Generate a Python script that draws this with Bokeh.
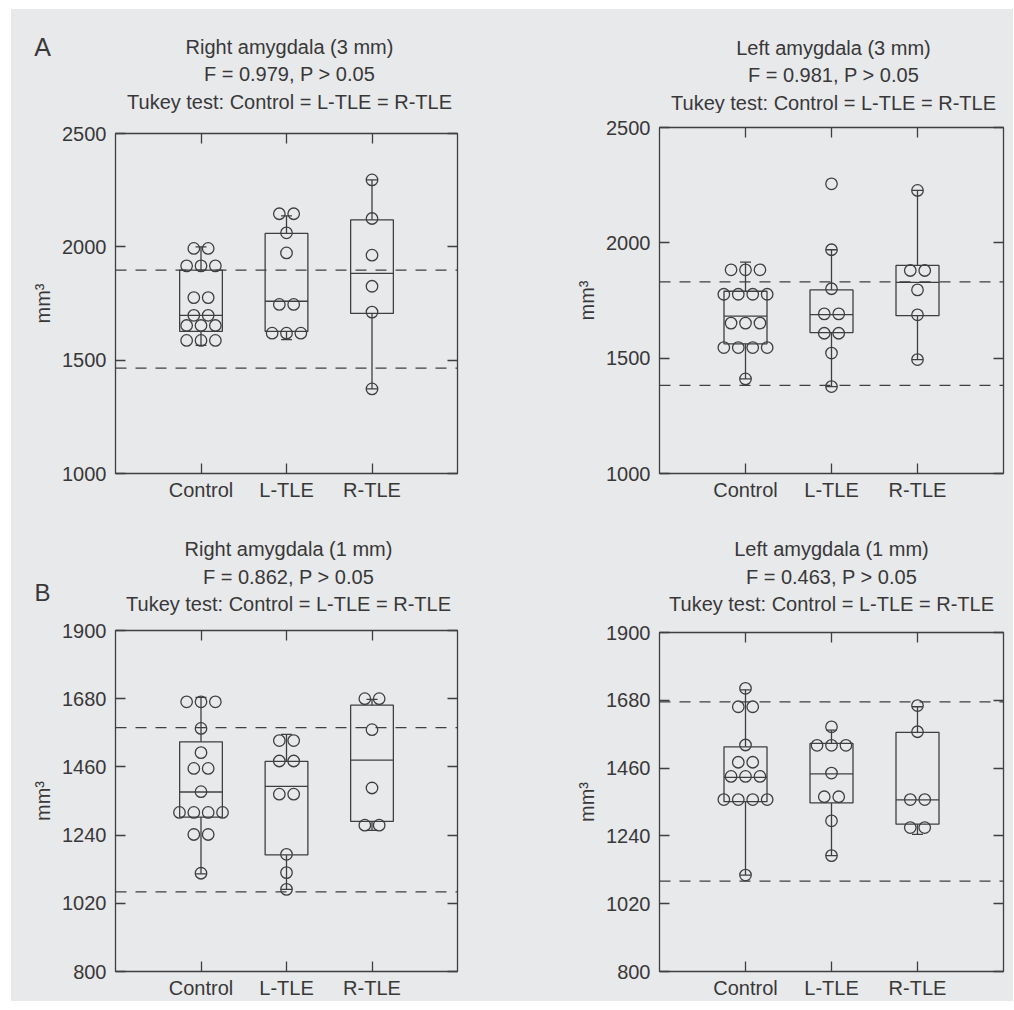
import numpy as np
from bokeh.plotting import figure
from bokeh.models import (Span, Label, LinearAxis, FixedTicker, Range1d, Spacer,
                          ColumnDataSource, CustomJSTickFormatter)
from bokeh.layouts import row, column
from bokeh.embed import file_html
from bokeh.resources import INLINE

# ---------------- data ----------------
groups = ["Control", "L-TLE", "R-TLE"]

# Panel A, right amygdala (3 mm)
ra3_title = ["Right amygdala (3 mm)", "F = 0.979, P > 0.05", "Tukey test: Control = L-TLE = R-TLE"]
ra3_control = [1993, 1993, 1916, 1916, 1916, 1776, 1776, 1698, 1698, 1653, 1653, 1653, 1587, 1587, 1587]
ra3_ltle = [2146, 2146, 2062, 1973, 1746, 1746, 1619, 1619, 1619]
ra3_rtle = [2295, 2125, 1963, 1826, 1712, 1373]
ra3_q1 = [1627, 1627, 1706]
ra3_median = [1698, 1760, 1883]
ra3_q3 = [1897, 2059, 2119]
ra3_whisker_low = [1565, 1591, 1373]
ra3_whisker_high = [2000, 2137, 2295]
ra3_ref = [1465, 1897]
ra3_yticks = [1000, 1500, 2000, 2500]

# Panel A, left amygdala (3 mm)
la3_title = ["Left amygdala (3 mm)", "F = 0.981, P > 0.05", "Tukey test: Control = L-TLE = R-TLE"]
la3_control = [1883, 1883, 1883, 1777, 1777, 1777, 1777, 1652, 1652, 1652, 1546, 1546, 1546, 1546, 1410]
la3_ltle = [2256, 1970, 1801, 1692, 1692, 1608, 1608, 1522, 1377]
la3_rtle = [2227, 1880, 1880, 1796, 1688, 1494]
la3_q1 = [1562, 1611, 1684]
la3_median = [1682, 1689, 1829]
la3_q3 = [1790, 1796, 1902]
la3_whisker_low = [1410, 1377, 1494]
la3_whisker_high = [1916, 1970, 2227]
la3_ref = [1382, 1831]
la3_yticks = [1000, 1500, 2000, 2500]

# Panel B, right amygdala (1 mm)
ra1_title = ["Right amygdala (1 mm)", "F = 0.862, P > 0.05", "Tukey test: Control = L-TLE = R-TLE"]
ra1_control = [1670, 1670, 1670, 1584, 1506, 1455, 1455, 1380, 1313, 1313, 1313, 1313, 1242, 1242, 1117]
ra1_ltle = [1545, 1545, 1479, 1479, 1372, 1372, 1178, 1119, 1065]
ra1_rtle = [1680, 1680, 1580, 1392, 1272, 1272]
ra1_q1 = [1298, 1176, 1284]
ra1_median = [1379, 1397, 1482]
ra1_q3 = [1541, 1478, 1659]
ra1_whisker_low = [1115, 1065, 1255]
ra1_whisker_high = [1684, 1565, 1678]
ra1_ref = [1057, 1587]
ra1_yticks = [800, 1020, 1240, 1460, 1680, 1900]

# Panel B, left amygdala (1 mm)
la1_title = ["Left amygdala (1 mm)", "F = 0.463, P > 0.05", "Tukey test: Control = L-TLE = R-TLE"]
la1_control = [1719, 1659, 1659, 1535, 1479, 1479, 1433, 1433, 1433, 1358, 1358, 1358, 1358, 1113]
la1_ltle = [1594, 1534, 1534, 1534, 1444, 1367, 1367, 1289, 1176]
la1_rtle = [1663, 1578, 1358, 1358, 1267, 1267]
la1_q1 = [1351, 1347, 1278]
la1_median = [1430, 1441, 1357]
la1_q3 = [1529, 1540, 1576]
la1_whisker_low = [1113, 1176, 1245]
la1_whisker_high = [1714, 1583, 1659]
la1_ref = [1093, 1675]
la1_yticks = [800, 1020, 1240, 1460, 1680, 1900]

y_label = "mm³"
panel_letters = ["A", "B"]

# ---------------- style ----------------
FONT = "Liberation Sans"
TXT = "#383838"
LINE = "#3f3f3f"
BG = "#e8e9eb"
LW = 1.3
FS = "20px"
TOTAL_W = 1002


def dodge(vals, center, step=0.168):
    counts = {}
    for v in vals:
        counts[v] = counts.get(v, 0) + 1
    seen, xs = {}, []
    for v in vals:
        n = counts[v]
        i = seen.get(v, 0)
        seen[v] = i + 1
        xs.append(center + (i - (n - 1) / 2) * step)
    return xs


def make_header(height, letter, letter_xy, letter_size, blocks):
    h = figure(width=TOTAL_W, height=height, x_range=Range1d(0, TOTAL_W),
               y_range=Range1d(height, 0), output_backend="svg", toolbar_location=None,
               min_border_left=0, min_border_right=0, min_border_top=0, min_border_bottom=0,
               x_axis_type=None, y_axis_type=None,
               background_fill_color=BG, border_fill_color=BG)
    h.xgrid.visible = False
    h.ygrid.visible = False
    h.outline_line_color = None
    h.add_layout(Label(x=letter_xy[0], y=letter_xy[1], text=letter, text_align="center",
                       text_baseline="middle", text_font=FONT, text_font_size=letter_size,
                       text_color=TXT))
    for lines, cx, ys in blocks:
        for t, ty in zip(lines, ys):
            h.add_layout(Label(x=cx, y=ty, text=t, text_align="center", text_baseline="middle",
                               text_font=FONT, text_font_size=FS, text_color=TXT))
    return h


def make_panel(width, height, borders, yticks, series, q1, med, q3, wlo, whi, ref, xlab_standoff):
    bl, br, bt, bb = borders
    p = figure(width=width, height=height, x_range=Range1d(0, 4),
               y_range=Range1d(yticks[0], yticks[-1]),
               output_backend="svg", toolbar_location=None,
               min_border_left=bl, min_border_right=br, min_border_top=bt, min_border_bottom=bb,
               background_fill_color=BG, border_fill_color=BG)
    p.xgrid.visible = False
    p.ygrid.visible = False
    p.outline_line_color = LINE
    p.outline_line_width = LW
    p.outline_line_alpha = 1.0

    xt = FixedTicker(ticks=[1, 2, 3])
    yt = FixedTicker(ticks=yticks)
    p.xaxis.ticker = xt
    p.yaxis.ticker = yt
    p.xaxis.major_label_overrides = {1: groups[0], 2: groups[1], 3: groups[2]}
    blank = CustomJSTickFormatter(code="return ''")
    p.add_layout(LinearAxis(ticker=yt, formatter=blank), "right")
    p.add_layout(LinearAxis(ticker=xt, formatter=blank), "above")
    for ax in p.axis:
        ax.axis_line_color = None
        ax.major_tick_in = 10
        ax.major_tick_out = 0
        ax.major_tick_line_color = LINE
        ax.major_tick_line_width = LW
        ax.minor_tick_line_color = None
        ax.major_label_text_font = FONT
        ax.major_label_text_font_size = FS
        ax.major_label_text_color = TXT
    for ax in p.right + p.above:
        ax.major_label_standoff = 0
        ax.major_label_text_font_size = "1px"
    yl = p.yaxis[0]
    yl.major_label_standoff = 9
    yl.axis_label = y_label
    yl.axis_label_text_font = FONT
    yl.axis_label_text_font_size = FS
    yl.axis_label_text_font_style = "normal"
    yl.axis_label_text_color = TXT
    yl.axis_label_standoff = 5
    p.xaxis[0].major_label_standoff = xlab_standoff

    centers = [1, 2, 3]
    hw = 0.25
    cap = 0.064
    p.quad(left=[c - hw for c in centers], right=[c + hw for c in centers], bottom=q1, top=q3,
           fill_color=None, line_color=LINE, line_width=LW)
    p.segment(x0=[c - hw for c in centers], x1=[c + hw for c in centers], y0=med, y1=med,
              line_color=LINE, line_width=LW)
    p.segment(x0=centers, x1=centers, y0=q3, y1=whi, line_color=LINE, line_width=LW)
    p.segment(x0=centers, x1=centers, y0=q1, y1=wlo, line_color=LINE, line_width=LW)
    p.segment(x0=[c - cap for c in centers], x1=[c + cap for c in centers], y0=whi, y1=whi,
              line_color=LINE, line_width=LW)
    p.segment(x0=[c - cap for c in centers], x1=[c + cap for c in centers], y0=wlo, y1=wlo,
              line_color=LINE, line_width=LW)
    for r in ref:
        p.add_layout(Span(location=r, dimension="width", line_color=LINE, line_width=LW,
                          line_dash="11 9"))
    xs, ys = [], []
    for c, vals in zip(centers, series):
        xs += dodge(vals, c)
        ys += vals
    src = ColumnDataSource(dict(x=xs, y=ys))
    p.scatter("x", "y", source=src, marker="circle", size=11.5, fill_color=None,
              line_color=LINE, line_width=LW)
    return p


headerA = make_header(104, panel_letters[0], (31, 37), "25px",
                      [(ra3_title, 278, [37, 64, 92]), (la3_title, 822, [38, 65, 93])])
pA1 = make_panel(519, 407, (104, 73, 20, 47), ra3_yticks,
                 [ra3_control, ra3_ltle, ra3_rtle], ra3_q1, ra3_median, ra3_q3,
                 ra3_whisker_low, ra3_whisker_high, ra3_ref, 5)
pA2 = make_panel(483, 407, (129, 10, 14, 47), la3_yticks,
                 [la3_control, la3_ltle, la3_rtle], la3_q1, la3_median, la3_q3,
                 la3_whisker_low, la3_whisker_high, la3_ref, 5)
headerB = make_header(95, panel_letters[1], (31, 72), "24px",
                      [(ra1_title, 277, [28, 56, 83]), (la1_title, 820, [28, 56, 83])])
pB1 = make_panel(519, 386, (104, 73, 15, 28), ra1_yticks,
                 [ra1_control, ra1_ltle, ra1_rtle], ra1_q1, ra1_median, ra1_q3,
                 ra1_whisker_low, ra1_whisker_high, ra1_ref, 3)
pB2 = make_panel(483, 386, (129, 10, 17, 27), la1_yticks,
                 [la1_control, la1_ltle, la1_rtle], la1_q1, la1_median, la1_q3,
                 la1_whisker_low, la1_whisker_high, la1_ref, 3)

inner = column(headerA, row(column(pA1), column(pA2)),
               headerB, row(column(pB1), column(pB2)),
               styles={"background-color": BG})
layout = row(Spacer(width=11, height=1), column(Spacer(width=1, height=9), inner))

open("out.html", "w").write(file_html(layout, INLINE))
